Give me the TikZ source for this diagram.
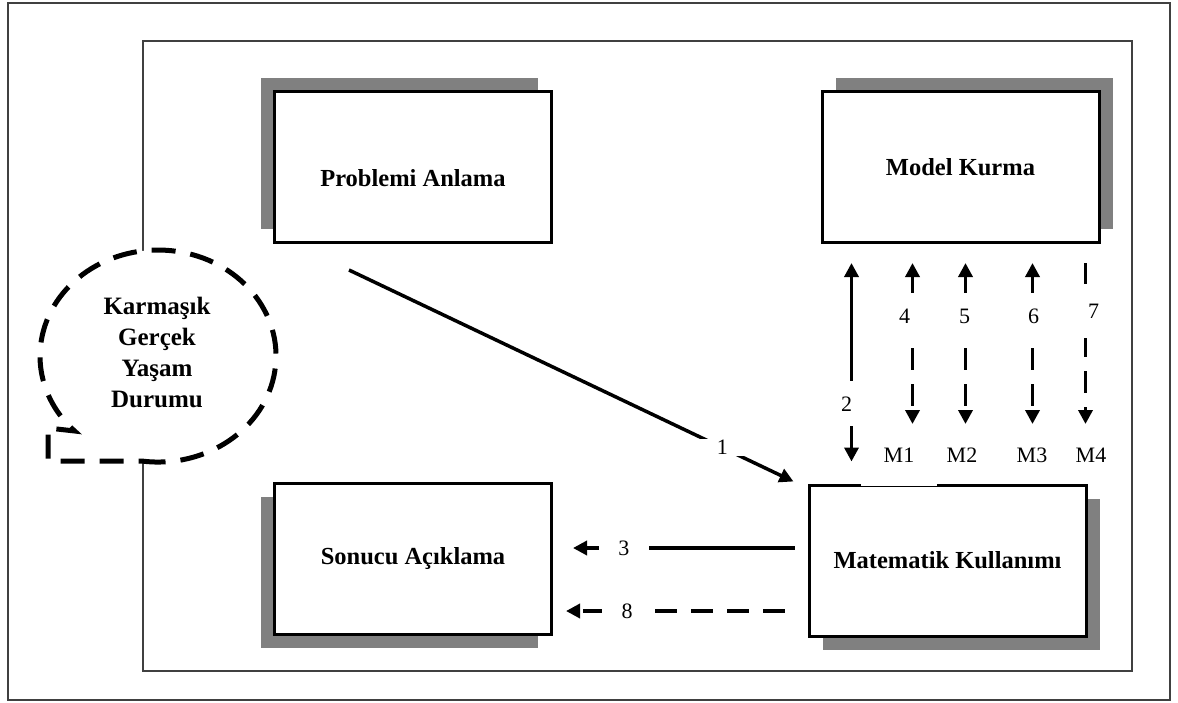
\documentclass[tikz,border=0pt]{standalone}
\usepackage{fontspec}
\setmainfont{Liberation Serif}
\usetikzlibrary{arrows.meta, positioning, calc, shadows}

\begin{document}
\begin{tikzpicture}[
    x=1pt, y=-1pt,
    >={Triangle[length=14pt, width=14pt]},
    stage/.style={rectangle, draw=black, line width=3pt, fill=white, minimum width=277pt, minimum height=151pt, font=\bfseries\fontsize{24.5}{28}\selectfont},
    boxshadow/.style 2 args={drop shadow={shadow xshift=#1, shadow yshift=#2, fill=gray, opacity=1}},
    arrow/.style={->, line width=3.5pt},
    dasharrow/.style={arrow, dash pattern=on 22pt off 14pt},
    num/.style={fill=white, inner sep=1pt, minimum width=24pt, font=\fontsize{22}{24}\selectfont},
    mlabel/.style={font=\fontsize{22}{24}\selectfont},
    frameline/.style={draw=black!75, line width=2pt}
]
    \useasboundingbox (0,0) rectangle (1178,702);
    \draw[frameline] (8,3) rectangle (1170,700);
    \draw[frameline] (143,41) rectangle (1132,671);

    % the four stages
    \node[stage, boxshadow={-14pt}{14pt}, text height=38pt, text depth=0pt] (pa) at (413,167) {Problemi Anlama};
    \node[stage, boxshadow={14pt}{14pt}, right=267.5pt of pa] (mk) {Model Kurma};
    \node[stage, boxshadow={-14pt}{-14pt}, below=237.5pt of pa] (sa) {Sonucu Açıklama};
    \node[stage, boxshadow={14pt}{-14pt}, right=254.5pt of sa, yshift=-2pt] (mat) {Matematik Kullanımı};

    % real life situation
    \draw[line width=5pt, dash pattern=on 24pt off 15pt, fill=white]
        (141.6,461) arc[start angle=98, end angle=-225, x radius=118, y radius=106]
        -- (48,428) -- (48,461) -- cycle;
    \node[font=\bfseries\fontsize{25}{31}\selectfont, align=center] (krm) at (157,352) {Karmaşık\\Gerçek\\Yaşam\\Durumu};

    % M labels
    \node[mlabel, fill=white, minimum width=76pt, minimum height=62pt] (m1) at (899,455) {M1};
    \node[mlabel] (m2) at (962,455) {M2};
    \node[mlabel] (m3) at (1032,455) {M3};
    \node[mlabel] (m4) at (1091,455) {M4};

    % 1
    \coordinate (s1) at ($(pa.south west)+(76,26)$);
    \coordinate (e1) at ($(mat.north west)+(-14,-2)$);
    \draw[arrow] (s1) -- node[num, pos=0.84, minimum width=46pt] (n1) {1} (e1);

    % 2
    \coordinate (t2) at ($(mk.south west)+(31,19)$);
    \draw[arrow, <->] (t2) -- node[num, pos=0.71, xshift=-5pt, minimum height=45pt] (n2) {2} ($(t2 |- mat.north)+(0,-22)$);

    % 4 - 7
    \coordinate (t4) at ($(mk.south west)+(92,19)$);
    \coordinate (t5) at ($(mk.south west)+(145,19)$);
    \coordinate (t6) at ($(mk.south west)+(212,19)$);
    \coordinate (t7) at ($(mk.south west)+(265,19)$);
    \draw[dasharrow, <->] (t4) -- node[num, pos=0.33, xshift=-8pt, minimum height=46pt] (n4) {4} ($(t4)+(0,161)$);
    \draw[dasharrow, <->] (t5) -- node[num, pos=0.33, xshift=-1pt, minimum height=46pt] (n5) {5} ($(t5)+(0,161)$);
    \draw[dasharrow, <->] (t6) -- node[num, pos=0.33, xshift=1pt, minimum height=46pt] (n6) {6} ($(t6)+(0,161)$);
    \draw[dasharrow] (t7) -- node[num, pos=0.30, xshift=8pt, minimum height=54pt] (n7) {7} ($(t7)+(0,161)$);

    % 3 and 8
    \coordinate (s3) at ($(mat.west)+(-13,-12.5)$);
    \coordinate (s8) at ($(mat.west)+(-23,50.5)$);
    \draw[arrow] (s3) -- node[num, pos=0.77, minimum width=50pt] (n3) {3} ($(s3 -| sa.east)+(20,0)$);
    \draw[dasharrow] (s8) -- node[num, pos=0.72, minimum width=50pt] (n8) {8} ($(s8 -| sa.east)+(13,0)$);
\end{tikzpicture}
\end{document}
